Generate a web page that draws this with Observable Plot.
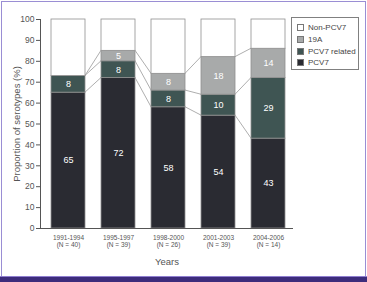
<!DOCTYPE html>
<html><head><meta charset="utf-8">
<script src="https://cdn.jsdelivr.net/npm/d3@7"></script>
<script src="https://cdn.jsdelivr.net/npm/@observablehq/plot@0.6"></script>
<style>
html,body{margin:0;padding:0;background:#fff;}
#wrap{position:relative;width:367px;height:282px;overflow:hidden;background:#fff;font-family:"Liberation Sans",Arial,sans-serif;}
#border{position:absolute;left:1px;top:1px;width:365px;height:276px;border:1px solid #9a8ed4;box-sizing:border-box;}
#band{position:absolute;left:0;top:276px;width:367px;height:6px;background:#3d2c7c;border-top:1px solid #8f7fd0;box-sizing:border-box;}
#chart{position:absolute;left:0;top:0;}
#legend{position:absolute;left:291px;top:17px;width:68px;height:53px;border:1px solid #808080;box-sizing:border-box;background:#fff;padding:4px 0 0 5px;font-size:8px;color:#444;}
#legend .it{display:flex;align-items:center;height:11.7px;white-space:nowrap;}
#legend .sw{width:7px;height:7px;border:1px solid #777;margin-right:4px;box-sizing:border-box;}
</style></head>
<body>
<div id="wrap">
  <div id="border"></div>
  <div id="chart"></div>
  <div id="legend"></div>
  <div id="band"></div>
</div>
<script>
const periods = ["1991-1994", "1995-1997", "1998-2000", "2001-2003", "2004-2006"];
const counts = ["N = 40", "N = 39", "N = 26", "N = 39", "N = 14"];
const pcv7 = [65, 72, 58, 54, 43];
const pcv7Related = [8, 8, 8, 10, 29];
const s19A = [0, 5, 8, 18, 14];
const seriesNames = ["PCV7", "PCV7 related", "19A", "Non-PCV7"];
const seriesColors = ["#2a2b32", "#3f5553", "#a8aaaa", "#ffffff"];
const yTicks = [0, 10, 20, 30, 40, 50, 60, 70, 80, 90, 100];

const rows = [];
periods.forEach((p, i) => {
  const vals = [pcv7[i], pcv7Related[i], s19A[i]];
  const rest = 100 - vals.reduce((a, b) => a + b, 0);
  vals.push(rest);
  seriesNames.forEach((s, k) => rows.push({period: p, series: s, value: vals[k], order: k}));
});

const tops = periods.map((p, i) => [pcv7[i], pcv7[i] + pcv7Related[i], pcv7[i] + pcv7Related[i] + s19A[i]]);

const labelMap = Object.fromEntries(periods.map((p, i) => [p, p + "\n(" + counts[i] + ")"]));

const pi = 0.32, po = 0.19;

const connectors = (index, scales, values, dimensions) => {
  const x = scales.x, y = scales.y;
  const step = x(periods[1]) - x(periods[0]);
  const bw = step * (1 - pi);
  const g = d3.create("svg:g").attr("stroke", "#999").attr("stroke-width", 0.8).attr("fill", "none");
  for (let i = 0; i < periods.length - 1; i++) {
    for (let k = 0; k < 3; k++) {
      const a = tops[i][k], b = tops[i + 1][k];
      g.append("line")
        .attr("x1", x(periods[i]) + bw).attr("y1", y(a))
        .attr("x2", x(periods[i + 1])).attr("y2", y(b));
    }
  }
  return g.node();
};

const chart = Plot.plot({
  width: 367,
  height: 276,
  marginLeft: 40,
  marginRight: 74,
  marginTop: 19,
  marginBottom: 48,
  style: {fontFamily: "Liberation Sans, Arial, sans-serif", color: "#555", background: "transparent"},
  x: {domain: periods, paddingInner: pi, paddingOuter: po, align: 0.58},
  y: {domain: [0, 100]},
  color: {domain: seriesNames, range: seriesColors},
  marks: [
    Plot.barY(rows, Plot.stackY({x: "period", y: "value", fill: "series", order: "order", stroke: "#8f8f8f", strokeWidth: 0.8})),
    connectors,
    Plot.text(rows.filter(d => d.series !== "Non-PCV7" && d.value > 0),
      Plot.stackY({x: "period", y: "value", z: "series", order: "order", text: d => String(d.value), fill: "white", fontSize: 9})),
    Plot.ruleY([0], {stroke: "#555", strokeWidth: 1}),
    Plot.frame({anchor: "left", stroke: "#555"}),
    Plot.axisY({ticks: yTicks, tickSize: 4, tickPadding: 2, fontSize: 8.5, stroke: "#555",
      label: "Proportion of serotypes (%)", labelAnchor: "center", labelOffset: 27, labelArrow: false}),
    Plot.axisX({tickSize: 0, tickPadding: 7, fontSize: 6.5, tickFormat: d => labelMap[d],
      label: "Years", labelAnchor: "center", labelOffset: 36, labelArrow: false})
  ]
});
chart.querySelectorAll("[aria-label='y-axis label'] text, [aria-label='x-axis label'] text").forEach(t => t.setAttribute("font-size", "9.5"));
document.getElementById("chart").appendChild(chart);

const legend = document.getElementById("legend");
["Non-PCV7", "19A", "PCV7 related", "PCV7"].forEach(s => {
  const it = document.createElement("div");
  it.className = "it";
  const sw = document.createElement("span");
  sw.className = "sw";
  sw.style.background = seriesColors[seriesNames.indexOf(s)];
  const tx = document.createElement("span");
  tx.textContent = s;
  it.appendChild(sw); it.appendChild(tx);
  legend.appendChild(it);
});
</script>
</body></html>
